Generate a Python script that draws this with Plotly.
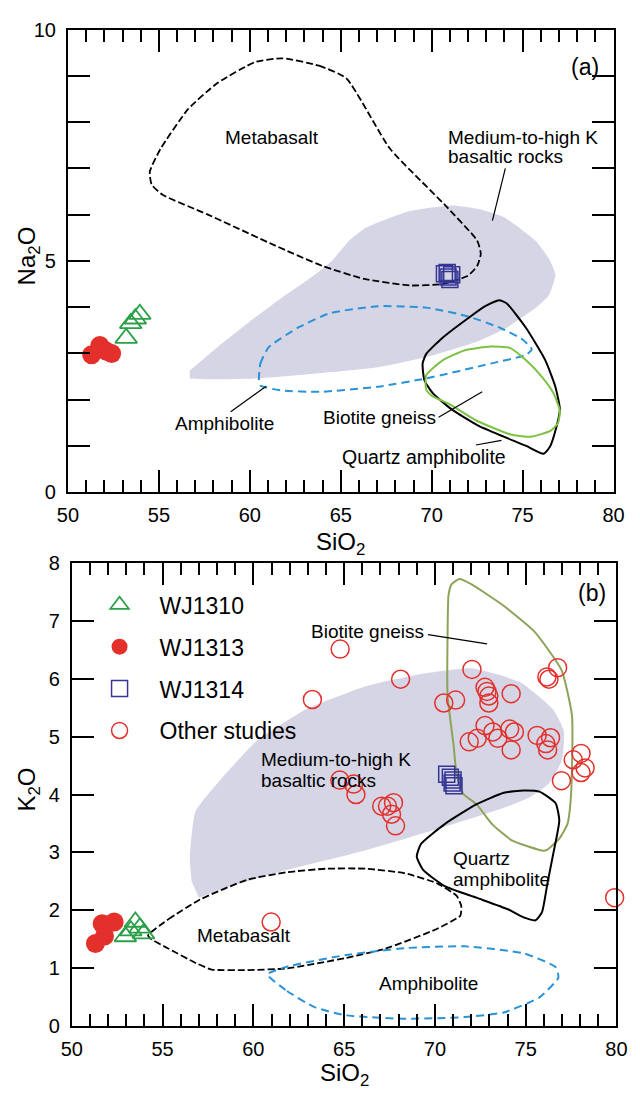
import plotly.graph_objects as go

FONT = "Liberation Sans, Arial, sans-serif"

# ================= Panel (a): Na2O vs SiO2 =================
a_shade_x = [56.7, 58.2, 60.0, 61.7, 63.5, 64.5, 65.5, 66.4, 68.8, 71.15, 72.6, 74.0, 75.7, 76.5, 76.8, 76.45,
             75.7, 74.1, 72.4, 69.7, 67.05, 63.5, 60.5, 58.2, 56.7]
a_shade_y = [2.63, 3.13, 3.69, 4.19, 4.68, 5.0, 5.45, 5.72, 6.08, 6.2, 6.12, 5.94, 5.44, 5.01, 4.7, 4.26,
             3.98, 3.55, 3.24, 2.92, 2.7, 2.56, 2.46, 2.44, 2.46]

a_meta_x = [61.8, 63.8, 65.3, 67.7, 70.7, 72.5, 72.7, 72.5, 72.0, 70.6, 68.8, 66.3, 64.0, 61.4, 57.7,
            55.2, 54.6, 54.5, 55.1, 56.6, 58.2, 60.3, 61.8]
a_meta_y = [9.38, 9.22, 8.95, 7.43, 6.22, 5.44, 5.15, 4.89, 4.68, 4.5, 4.47, 4.61, 4.89, 5.33, 6.0,
            6.43, 6.65, 6.93, 7.43, 8.28, 8.84, 9.3, 9.38]

a_amph_x = [60.5, 60.58, 61.03, 62.62, 64.4, 67.05, 69.7, 72.0, 73.78, 75.0, 75.5, 75.2, 73.24, 69.7,
            67.05, 63.86, 61.74, 60.6, 60.5]
a_amph_y = [2.42, 2.78, 3.13, 3.55, 3.87, 4.02, 3.99, 3.8, 3.55, 3.3, 3.09, 2.97, 2.78, 2.46,
            2.28, 2.17, 2.2, 2.3, 2.42]

a_qamph_x = [73.7, 72.9, 72.0, 70.6, 69.7, 69.5, 69.6, 70.06, 71.1, 72.5, 73.96, 75.2, 76.15, 76.5, 76.85,
             77.05, 76.8, 76.25, 75.19, 74.13, 73.7]
a_qamph_y = [4.15, 4.01, 3.76, 3.34, 2.99, 2.78, 2.42, 2.14, 1.79, 1.45, 1.2, 1.0, 0.83, 0.98, 1.4,
             1.79, 2.28, 2.85, 3.55, 4.08, 4.15]

a_bio_x = [69.7, 70.6, 71.83, 73.24, 74.3, 75.19, 76.07, 76.7, 77.05, 76.95, 76.55, 75.48, 74.4, 72.45, 71.0,
           70.06, 69.7, 69.7]
a_bio_y = [2.53, 2.85, 3.07, 3.15, 3.12, 2.85, 2.49, 2.14, 1.76, 1.5, 1.33, 1.2, 1.24, 1.55, 1.9,
           2.07, 2.21, 2.53]

a_wj1310_x = [53.2, 53.45, 53.7, 53.95]
a_wj1310_y = [3.33, 3.65, 3.75, 3.85]
a_wj1313_x = [51.3, 51.75, 52.1, 52.4]
a_wj1313_y = [2.97, 3.17, 3.05, 3.0]
a_wj1314_x = [70.7, 70.9, 71.1, 71.0, 70.85]
a_wj1314_y = [4.72, 4.65, 4.7, 4.6, 4.75]

# ================= Panel (b): K2O vs SiO2 =================
b_shade_x = [56.6, 56.5, 56.8, 57.9, 60.1, 62.9, 66.2, 69.4, 72.0, 73.7, 74.8, 76.5, 77.1, 77.0, 76.3,
             75.2, 73.8, 70.5, 66.2, 61.85, 58.8, 57.0]
b_shade_y = [2.5, 2.9, 3.7, 4.15, 4.9, 5.47, 5.87, 6.09, 6.18, 6.05, 5.92, 5.47, 5.1, 4.6, 4.2,
             3.95, 3.77, 3.44, 3.04, 2.7, 2.42, 2.22]

b_bio_x = [71.35, 72.0, 73.73, 75.46, 76.97, 77.55, 77.5, 77.3, 76.85, 76.2, 75.98, 74.24, 73.15, 72.3,
           71.57, 71.2, 71.03, 70.7, 70.7, 70.75, 70.92, 71.35]
b_bio_y = [7.72, 7.63, 7.27, 6.82, 6.15, 5.36, 4.0, 3.49, 3.24, 3.05, 3.03, 3.21, 3.49, 3.83,
           4.01, 4.34, 4.85, 5.7, 6.82, 7.44, 7.63, 7.72]

b_qamph_x = [74.89, 73.8, 72.28, 70.54, 69.24, 69.0, 69.35, 70.54, 72.28, 74.02, 74.89, 75.54, 75.9, 76.2,
             76.52, 76.85, 76.65, 75.76, 74.89]
b_qamph_y = [4.07, 4.03, 3.83, 3.49, 3.15, 2.93, 2.7, 2.42, 2.22, 2.02, 1.88, 1.83, 1.97, 2.47,
             2.98, 3.55, 3.85, 4.05, 4.07]

b_meta_x = [54.2, 55.33, 57.07, 59.67, 61.85, 64.02, 66.2, 68.37, 70.1, 71.2, 71.45, 71.4, 70.1, 67.28,
            65.1, 61.85, 59.67, 57.7, 56.85, 55.33, 54.35, 54.2]
b_meta_y = [1.57, 1.85, 2.19, 2.53, 2.66, 2.72, 2.72, 2.64, 2.47, 2.25, 2.08, 1.91, 1.68, 1.34,
            1.18, 1.0, 0.97, 0.98, 1.09, 1.34, 1.51, 1.57]

b_amph_x = [60.76, 61.85, 63.37, 65.1, 68.37, 71.63, 73.8, 75.76, 76.8, 76.65, 74.89, 71.63, 68.37, 65.1,
            61.85, 60.87, 60.76]
b_amph_y = [0.89, 0.61, 0.33, 0.19, 0.13, 0.16, 0.24, 0.5, 0.84, 1.02, 1.26, 1.38, 1.35, 1.23,
            1.03, 0.92, 0.89]

b_wj1310_x = [52.95, 53.25, 53.5, 53.75, 53.95]
b_wj1310_y = [1.55, 1.65, 1.8, 1.7, 1.6]
b_wj1313_x = [51.3, 51.8, 51.67, 52.33]
b_wj1313_y = [1.43, 1.56, 1.77, 1.8]
b_wj1314_x = [70.65, 70.85, 70.95, 71.05, 71.0]
b_wj1314_y = [4.35, 4.3, 4.2, 4.15, 4.25]

other_x = [64.78, 68.11, 63.25, 70.49, 71.14, 72.04, 72.76, 72.87, 72.97, 72.97, 74.2, 76.17, 76.28, 76.76,
           71.89, 72.33, 72.76, 73.19, 73.47, 74.12, 74.38, 74.2, 75.63, 76.11, 76.21, 76.37, 77.62, 78.05,
           78.27, 78.05, 76.97, 64.76, 65.52, 65.65, 67.07, 67.39, 67.72, 67.61, 67.83, 60.98, 79.9]
other_y = [6.51, 5.99, 5.64, 5.58, 5.63, 6.16, 5.85, 5.78, 5.7, 5.58, 5.74, 6.03, 5.99, 6.19,
           4.91, 4.97, 5.19, 5.08, 4.97, 5.13, 5.08, 4.77, 5.02, 4.88, 4.77, 4.98, 4.6, 4.71,
           4.46, 4.38, 4.24, 4.25, 4.18, 4.0, 3.8, 3.8, 3.86, 3.66, 3.46, 1.8, 2.22]

# ---- labels (text, x, y, anchor, size) ----
a_labels = [("Metabasalt", 61.2, 7.67, "center", 19),
            ("Medium-to-high K", 70.81, 7.67, "left", 19),
            ("basaltic rocks", 70.81, 7.25, "left", 19),
            ("(a)", 79.3, 9.2, "right", 23),
            ("Amphibolite", 58.63, 1.48, "center", 19),
            ("Biotite gneiss", 67.13, 1.62, "center", 19),
            ("Quartz amphibolite", 69.6, 0.77, "center", 19.5)]
a_leaders = [((74.05, 7.0), (73.34, 5.87)),
             ((58.95, 1.74), (60.9, 2.29)),
             ((70.38, 1.62), (72.78, 2.17)),
             ((72.43, 1.02), (73.84, 1.12))]

b_labels = [("(b)", 79.55, 7.47, "right", 23),
            ("Biotite gneiss", 66.27, 6.82, "center", 19),
            ("Medium-to-high K", 60.33, 4.6, "left", 19),
            ("basaltic rocks", 60.33, 4.25, "left", 19),
            ("Quartz", 70.87, 2.9, "left", 19),
            ("amphibolite", 70.87, 2.54, "left", 19),
            ("Metabasalt", 59.46, 1.56, "center", 19),
            ("Amphibolite", 69.67, 0.74, "center", 19)]
b_leaders = [((69.62, 6.76), (72.87, 6.6))]

SHADE = "#d5d5e6"
BLUE_DASH = "#2a93d5"
GREEN_A = "#7dc243"
OLIVE_B = "#8ea35a"
RED = "#e3302b"
GREEN_T = "#2ca048"
NAVY = "#353595"

fig = go.Figure()


def region(x, y, xa, ya):
    fig.add_trace(go.Scatter(x=x, y=y, mode="lines", fill="toself", fillcolor=SHADE,
                             line=dict(width=0, shape="spline", smoothing=0.5), hoverinfo="skip",
                             showlegend=False, xaxis=xa, yaxis=ya))


def outline(x, y, color, dash, xa, ya, width=2):
    fig.add_trace(go.Scatter(x=x, y=y, mode="lines",
                             line=dict(color=color, width=width, dash=dash, shape="spline", smoothing=0.5),
                             hoverinfo="skip", showlegend=False, xaxis=xa, yaxis=ya))


def pts(x, y, symbol, color, size, xa, ya, name, legend, filled=False, lw=1.8):
    mk = dict(symbol=symbol, size=size, line=dict(color=color, width=lw))
    mk["color"] = color if filled else "rgba(0,0,0,0)"
    fig.add_trace(go.Scatter(x=x, y=y, mode="markers", marker=mk, name=name, showlegend=legend,
                             legendgroup=name, cliponaxis=False, xaxis=xa, yaxis=ya))


# panel (a)
region(a_shade_x, a_shade_y, "x", "y")
outline(a_meta_x, a_meta_y, "black", "7px,3px", "x", "y", 1.8)
outline(a_amph_x, a_amph_y, BLUE_DASH, "8px,5px", "x", "y", 2)
outline(a_qamph_x, a_qamph_y, "black", "solid", "x", "y", 2)
outline(a_bio_x, a_bio_y, GREEN_A, "solid", "x", "y", 2)
pts(a_wj1310_x, a_wj1310_y, "triangle-up", GREEN_T, 19, "x", "y", "WJ1310", False)
pts(a_wj1313_x, a_wj1313_y, "circle", RED, 19, "x", "y", "WJ1313", False, filled=True, lw=0)
pts(a_wj1314_x, a_wj1314_y, "square", NAVY, 16, "x", "y", "WJ1314", False, lw=1.5)

# panel (b)
region(b_shade_x, b_shade_y, "x2", "y2")
outline(b_bio_x, b_bio_y, OLIVE_B, "solid", "x2", "y2", 2)
outline(b_qamph_x, b_qamph_y, "black", "solid", "x2", "y2", 2)
outline(b_meta_x, b_meta_y, "black", "7px,3px", "x2", "y2", 1.8)
outline(b_amph_x, b_amph_y, BLUE_DASH, "8px,5px", "x2", "y2", 2)
pts(b_wj1310_x, b_wj1310_y, "triangle-up", GREEN_T, 19, "x2", "y2", "WJ1310", True)
pts(b_wj1313_x, b_wj1313_y, "circle", RED, 19, "x2", "y2", "WJ1313", True, filled=True, lw=0)
pts(b_wj1314_x, b_wj1314_y, "square", NAVY, 16, "x2", "y2", "WJ1314", True, lw=1.5)
pts(other_x, other_y, "circle", RED, 18, "x2", "y2", "Other studies", True, lw=1.5)

annotations = []
shapes = []
for lab, xs, ys, anc, fs in a_labels:
    annotations.append(dict(text=lab, x=xs, y=ys, xref="x", yref="y", xanchor=anc, yanchor="middle",
                            showarrow=False, font=dict(size=fs, color="black", family=FONT)))
for lab, xs, ys, anc, fs in b_labels:
    annotations.append(dict(text=lab, x=xs, y=ys, xref="x2", yref="y2", xanchor=anc, yanchor="middle",
                            showarrow=False, font=dict(size=fs, color="black", family=FONT)))
for (p, q) in a_leaders:
    shapes.append(dict(type="line", xref="x", yref="y", x0=p[0], y0=p[1], x1=q[0], y1=q[1],
                       line=dict(color="black", width=1.2)))
for (p, q) in b_leaders:
    shapes.append(dict(type="line", xref="x2", yref="y2", x0=p[0], y0=p[1], x1=q[0], y1=q[1],
                       line=dict(color="black", width=1.2)))

W, H = 640, 1102
# axis titles
title_font = dict(size=24, color="black", family=FONT)
annotations += [
    dict(text="SiO<sub>2</sub>", x=341.5 / W, y=1 - 543 / H, xref="paper", yref="paper",
         showarrow=False, font=title_font, xanchor="center", yanchor="middle"),
    dict(text="SiO<sub>2</sub>", x=345 / W, y=1 - 1085 / H, xref="paper", yref="paper",
         showarrow=False, font=title_font, xanchor="center", yanchor="middle"),
    dict(text="Na<sub>2</sub>O", x=18 / W, y=1 - 250 / H, xref="paper", yref="paper", textangle=-90,
         showarrow=False, font=title_font, xanchor="center", yanchor="middle"),
    dict(text="K<sub>2</sub>O", x=18 / W, y=1 - 794 / H, xref="paper", yref="paper", textangle=-90,
         showarrow=False, font=title_font, xanchor="center", yanchor="middle"),
]

tick_font = dict(size=20, color="black", family=FONT)


def xaxis(domain, anchor):
    return dict(domain=domain, anchor=anchor, range=[50, 80], dtick=5, tick0=50, ticks="inside",
                ticklen=22, tickwidth=2, tickcolor="black", showline=True, linewidth=2, linecolor="black",
                mirror="ticks", showgrid=False, zeroline=False, tickfont=tick_font, ticklabelstandoff=4,
                minor=dict(dtick=1, ticks="inside", ticklen=12, tickwidth=2, tickcolor="black", showgrid=False))


fig.update_layout(
    width=W, height=H, margin=dict(l=0, r=0, t=0, b=0),
    paper_bgcolor="white", plot_bgcolor="white", font=dict(family=FONT, color="black"),
    xaxis=xaxis([59 / W, 624 / W], "y"),
    yaxis=dict(domain=[1 - 491 / H, 1 - 19 / H], anchor="x", range=[0, 10], dtick=5, tick0=0,
               ticks="inside", ticklen=22, tickwidth=2, tickcolor="black", showline=True, linewidth=2,
               linecolor="black", mirror="ticks", showgrid=False, zeroline=False, tickfont=tick_font,
               ticklabelstandoff=6,
               minor=dict(dtick=1, ticks="inside", ticklen=22, tickwidth=2, tickcolor="black", showgrid=False)),
    xaxis2=xaxis([63 / W, 627 / W], "y2"),
    yaxis2=dict(domain=[1 - 1036 / H, 1 - 563 / H], anchor="x2", range=[0, 8], dtick=1, tick0=0,
                ticks="inside", ticklen=22, tickwidth=2, tickcolor="black", showline=True, linewidth=2,
                linecolor="black", mirror="ticks", showgrid=False, zeroline=False, tickfont=tick_font,
                ticklabelstandoff=6),
    legend=dict(x=71 / W, y=1 - 584 / H, xanchor="left", yanchor="top", bgcolor="rgba(0,0,0,0)",
                font=dict(size=23, color="black", family=FONT), tracegroupgap=9, itemwidth=70),
    annotations=annotations, shapes=shapes, showlegend=True,
)

fig.write_html("out.html")
